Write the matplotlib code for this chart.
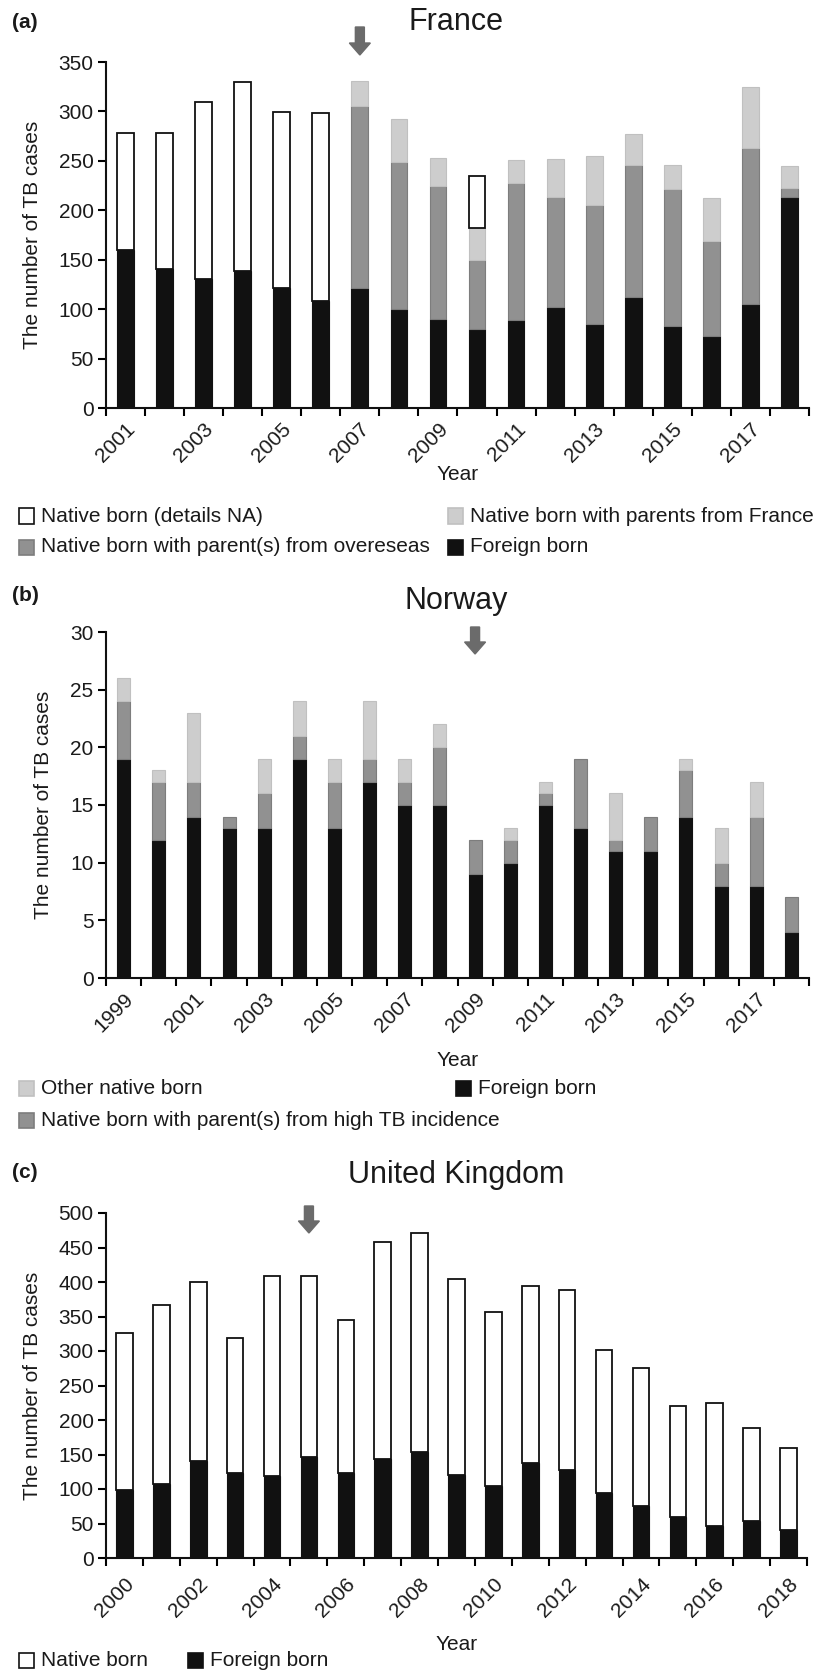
import numpy as np
import matplotlib
matplotlib.use("Agg")
import matplotlib.pyplot as plt
from matplotlib.patches import Rectangle, FancyArrow

plt.rcParams['font.family'] = ['Liberation Sans', 'DejaVu Sans']

# ---------------- data ----------------
fr_years = list(range(2001, 2019))
fr_foreign = [160, 141, 130, 139, 121, 108, 121, 100, 90, 80, 89, 102, 85, 112, 83, 73, 105, 213]
fr_overseas = [0, 0, 0, 0, 0, 0, 184, 149, 135, 70, 139, 111, 120, 134, 139, 96, 158, 10]
fr_parents_fr = [0, 0, 0, 0, 0, 0, 26, 43, 28, 32, 23, 39, 50, 31, 24, 43, 62, 22]
fr_na = [118, 137, 180, 191, 178, 190, 0, 0, 0, 53, 0, 0, 0, 0, 0, 0, 0, 0]

no_years = list(range(1999, 2019))
no_foreign = [19, 12, 14, 13, 13, 19, 13, 17, 15, 15, 9, 10, 15, 13, 11, 11, 14, 8, 8, 4]
no_hightb = [5, 5, 3, 1, 3, 2, 4, 2, 2, 5, 3, 2, 1, 6, 1, 3, 4, 2, 6, 3]
no_other = [2, 1, 6, 0, 3, 3, 2, 5, 2, 2, 0, 1, 1, 0, 4, 0, 1, 3, 3, 0]

uk_years = list(range(2000, 2019))
uk_foreign = [99, 107, 141, 123, 119, 147, 123, 143, 154, 121, 104, 138, 127, 94, 76, 59, 47, 53, 41]
uk_native = [227, 259, 259, 196, 290, 262, 222, 315, 317, 283, 252, 256, 261, 207, 199, 161, 177, 135, 118]

fr_arrow_year = 2007
no_arrow_year = 2009
uk_arrow_year = 2005

# ---------------- style ----------------
BLACK = '#111111'
DARK = '#919191'
DARK_E = '#7d7d7d'
LIGHT = '#cdcdcd'
LIGHT_E = '#c0c0c0'
ARROW = '#6b6b6b'
TXT = '#1a1a1a'

W, H = 819, 1672
fig = plt.figure(figsize=(W / 100, H / 100), dpi=100)


def axes_px(left, top, right, bottom):
    ax = fig.add_axes([left / W, 1 - bottom / H, (right - left) / W, (bottom - top) / H])
    ax._px = (top, bottom)
    return ax


def stacked(ax, x, vals, bottom, wd, face, edge, lw):
    vals = np.asarray(vals, dtype=float)
    keep = vals > 0
    ax.bar(x[keep], vals[keep], wd, bottom=bottom[keep], color=face, edgecolor=edge, linewidth=lw)
    return bottom + vals


def style_axis(ax, years, first_label, ymax, ystep, year_y_px, tick_pad=8):
    n = len(years)
    ax.set_xlim(-0.5, n - 0.5)
    ax.set_ylim(0, ymax)
    ax.set_yticks(np.arange(0, ymax + 0.1, ystep))
    ax.set_xticks(np.arange(n))
    labels = [str(y) if (y - first_label) % 2 == 0 else '' for y in years]
    ax.set_xticklabels(labels, rotation=45, ha='right', rotation_mode='anchor', fontsize=15, color=TXT)
    ax.set_xticks(np.arange(-0.5, n), minor=True)
    ax.tick_params(axis='x', which='major', length=0, pad=tick_pad)
    ax.tick_params(axis='x', which='minor', length=6, width=1.5, direction='out')
    ax.tick_params(axis='y', length=6, width=1.5, direction='out', labelsize=15, labelcolor=TXT, pad=3)
    for s in ['top', 'right']:
        ax.spines[s].set_visible(False)
    for s in ['left', 'bottom']:
        ax.spines[s].set_linewidth(1.5)
        ax.spines[s].set_color('#111111')
    ax.set_ylabel('The number of TB cases', fontsize=15, color=TXT, labelpad=12)
    ax.set_xlabel('Year', fontsize=15, color=TXT, va='center')
    top, bottom = ax._px
    ax.xaxis.set_label_coords(0.5, -(year_y_px - bottom) / (bottom - top))


def arrow(ax, year_idx, top_px, bottom_px):
    x = ax.transData.transform((year_idx, 0))[0]
    a = FancyArrow(x, H - top_px, 0, -(bottom_px - top_px), width=9, head_width=21,
                   head_length=12, length_includes_head=True, color=ARROW,
                   transform=None, figure=fig)
    fig.patches.append(a)


def legend_entry(x, y, face, edge, label):
    fig.patches.append(Rectangle((x / W, 1 - (y + 7.5) / H), 15 / W, 15 / H, facecolor=face,
                                 edgecolor=edge, linewidth=1.2, transform=fig.transFigure,
                                 figure=fig))
    fig.text((x + 22) / W, 1 - y / H, label, fontsize=15, color=TXT, va='center', ha='left')


# ---------------- (a) France ----------------
ax1 = axes_px(106, 62, 809, 408)
x = np.arange(len(fr_years))
wd = 0.43
b = np.zeros(len(x))
b = stacked(ax1, x, fr_foreign, b, wd, BLACK, BLACK, 0.8)
b = stacked(ax1, x, fr_overseas, b, wd, DARK, DARK_E, 0.8)
b = stacked(ax1, x, fr_parents_fr, b, wd, LIGHT, LIGHT_E, 0.8)
b = stacked(ax1, x, fr_na, b, wd, 'white', BLACK, 1.3)
style_axis(ax1, fr_years, 2001, 350, 50, 475)
fig.text(12 / W, 1 - 22 / H, '(a)', fontsize=15, fontweight='bold', va='center', color=TXT)
fig.text(456 / W, 1 - 22 / H, 'France', fontsize=22, va='center', ha='center', color=TXT)
arrow(ax1, fr_years.index(fr_arrow_year), 27, 55)

legend_entry(19, 516, 'white', BLACK, 'Native born (details NA)')
legend_entry(448, 516, LIGHT, LIGHT_E, 'Native born with parents from France')
legend_entry(19, 547, DARK, DARK_E, 'Native born with parent(s) from overeseas')
legend_entry(448, 547, BLACK, BLACK, 'Foreign born')

# ---------------- (b) Norway ----------------
ax2 = axes_px(106, 632, 809, 978)
x = np.arange(len(no_years))
wd = 0.37
b = np.zeros(len(x))
b = stacked(ax2, x, no_foreign, b, wd, BLACK, BLACK, 0.8)
b = stacked(ax2, x, no_hightb, b, wd, DARK, DARK_E, 0.8)
b = stacked(ax2, x, no_other, b, wd, LIGHT, LIGHT_E, 0.8)
style_axis(ax2, no_years, 1999, 30, 5, 1061)
fig.text(12 / W, 1 - 596 / H, '(b)', fontsize=15, fontweight='bold', va='center', color=TXT)
fig.text(456 / W, 1 - 601 / H, 'Norway', fontsize=22, va='center', ha='center', color=TXT)
arrow(ax2, no_years.index(no_arrow_year), 627, 654)

legend_entry(19, 1088, LIGHT, LIGHT_E, 'Other native born')
legend_entry(456, 1088, BLACK, BLACK, 'Foreign born')
legend_entry(19, 1120, DARK, DARK_E, 'Native born with parent(s) from high TB incidence')

# ---------------- (c) United Kingdom ----------------
ax3 = axes_px(106, 1213, 807, 1558)
x = np.arange(len(uk_years))
wd = 0.45
b = np.zeros(len(x))
b = stacked(ax3, x, uk_foreign, b, wd, BLACK, BLACK, 0.8)
b = stacked(ax3, x, uk_native, b, wd, 'white', BLACK, 1.3)
style_axis(ax3, uk_years, 2000, 500, 50, 1644, tick_pad=12)
fig.text(12 / W, 1 - 1172 / H, '(c)', fontsize=15, fontweight='bold', va='center', color=TXT)
fig.text(456 / W, 1 - 1175 / H, 'United Kingdom', fontsize=22, va='center', ha='center', color=TXT)
arrow(ax3, uk_years.index(uk_arrow_year), 1206, 1233)

legend_entry(19, 1660, 'white', BLACK, 'Native born')
legend_entry(188, 1660, BLACK, BLACK, 'Foreign born')

fig.savefig('out.png', dpi=100)
